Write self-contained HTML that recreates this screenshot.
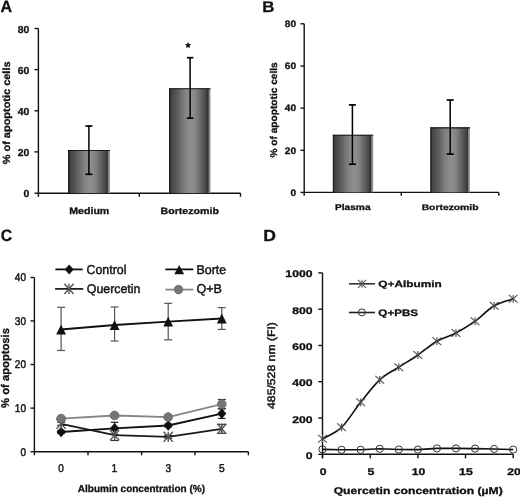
<!DOCTYPE html><html><head><meta charset="utf-8"><style>html,body{margin:0;padding:0;background:#fff;overflow:hidden}svg{display:block;will-change:transform} text{text-rendering:geometricPrecision}</style></head><body>
<svg width="520" height="497" viewBox="0 0 520 497" font-family="Liberation Sans, sans-serif">
<defs><linearGradient id="bg" x1="0" y1="0" x2="1" y2="0"><stop offset="0.0000" stop-color="#1c1c1c"/><stop offset="0.0317" stop-color="#262626"/><stop offset="0.0488" stop-color="#444444"/><stop offset="0.1351" stop-color="#505050"/><stop offset="0.2215" stop-color="#606060"/><stop offset="0.3208" stop-color="#757575"/><stop offset="0.3941" stop-color="#828282"/><stop offset="0.4805" stop-color="#8c8c8c"/><stop offset="0.5496" stop-color="#8e8e8e"/><stop offset="0.6186" stop-color="#888888"/><stop offset="0.6963" stop-color="#787878"/><stop offset="0.7740" stop-color="#646464"/><stop offset="0.8431" stop-color="#525252"/><stop offset="0.9122" stop-color="#404040"/><stop offset="0.9317" stop-color="#2e2e2e"/><stop offset="0.9488" stop-color="#404040"/><stop offset="0.9610" stop-color="#888888"/><stop offset="1.0000" stop-color="#9a9a9a"/></linearGradient></defs>
<text transform="translate(0.45 12.15) scale(0.9801 1)" font-size="16.42" font-weight="bold" fill="#111" stroke="#111" stroke-width="0.30">A</text>
<line x1="38.40" y1="28.50" x2="38.40" y2="196.80" stroke="#111" stroke-width="1.40" stroke-linecap="butt"/>
<line x1="38.40" y1="193.20" x2="240.50" y2="193.20" stroke="#111" stroke-width="1.40" stroke-linecap="butt"/>
<line x1="34.50" y1="28.50" x2="38.40" y2="28.50" stroke="#111" stroke-width="1.40" stroke-linecap="butt"/>
<line x1="34.50" y1="69.60" x2="38.40" y2="69.60" stroke="#111" stroke-width="1.40" stroke-linecap="butt"/>
<line x1="34.50" y1="110.80" x2="38.40" y2="110.80" stroke="#111" stroke-width="1.40" stroke-linecap="butt"/>
<line x1="34.50" y1="151.90" x2="38.40" y2="151.90" stroke="#111" stroke-width="1.40" stroke-linecap="butt"/>
<line x1="34.50" y1="193.20" x2="38.40" y2="193.20" stroke="#111" stroke-width="1.40" stroke-linecap="butt"/>
<line x1="139.30" y1="193.20" x2="139.30" y2="196.80" stroke="#111" stroke-width="1.40" stroke-linecap="butt"/>
<line x1="240.50" y1="193.20" x2="240.50" y2="196.80" stroke="#111" stroke-width="1.40" stroke-linecap="butt"/>
<rect x="68.00" y="150.00" width="42.00" height="43.20" fill="url(#bg)"/>
<line x1="68.00" y1="150.50" x2="110.00" y2="150.50" stroke="#1a1a1a" stroke-width="1.10" stroke-linecap="butt"/>
<line x1="88.90" y1="126.00" x2="88.90" y2="174.30" stroke="#000" stroke-width="1.50" stroke-linecap="butt"/>
<line x1="85.40" y1="126.00" x2="92.40" y2="126.00" stroke="#000" stroke-width="1.70" stroke-linecap="butt"/>
<line x1="85.40" y1="174.30" x2="92.40" y2="174.30" stroke="#000" stroke-width="1.70" stroke-linecap="butt"/>
<rect x="169.00" y="88.30" width="41.50" height="104.90" fill="url(#bg)"/>
<line x1="169.00" y1="88.80" x2="210.50" y2="88.80" stroke="#1a1a1a" stroke-width="1.10" stroke-linecap="butt"/>
<line x1="190.10" y1="57.70" x2="190.10" y2="118.20" stroke="#000" stroke-width="1.50" stroke-linecap="butt"/>
<line x1="186.85" y1="57.70" x2="193.35" y2="57.70" stroke="#000" stroke-width="1.70" stroke-linecap="butt"/>
<line x1="186.85" y1="118.20" x2="193.35" y2="118.20" stroke="#000" stroke-width="1.70" stroke-linecap="butt"/>
<polygon points="188.10,41.90 189.04,44.01 191.33,44.25 189.62,45.79 190.10,48.05 188.10,46.90 186.10,48.05 186.58,45.79 184.87,44.25 187.16,44.01" fill="#111"/>
<text transform="translate(17.76 32.65) scale(1.0300 1)" font-size="10.10" font-weight="bold" fill="#111" stroke="#111" stroke-width="0.30">80</text>
<text transform="translate(17.76 73.75) scale(1.0300 1)" font-size="10.10" font-weight="bold" fill="#111" stroke="#111" stroke-width="0.30">60</text>
<text transform="translate(17.76 114.95) scale(1.0300 1)" font-size="10.10" font-weight="bold" fill="#111" stroke="#111" stroke-width="0.30">40</text>
<text transform="translate(17.76 156.05) scale(1.0300 1)" font-size="10.10" font-weight="bold" fill="#111" stroke="#111" stroke-width="0.30">20</text>
<text transform="translate(23.54 197.35) scale(1.0300 1)" font-size="10.10" font-weight="bold" fill="#111" stroke="#111" stroke-width="0.30">0</text>
<text transform="translate(69.24 213.65) scale(1.1138 1)" font-size="9.52" font-weight="bold" fill="#111" stroke="#111" stroke-width="0.30">Medium</text>
<text transform="translate(160.44 213.55) scale(1.1708 1)" font-size="9.11" font-weight="bold" fill="#111" stroke="#111" stroke-width="0.30">Bortezomib</text>
<text transform="translate(10.25 164.32) rotate(-90) scale(1.0590 1)" font-size="10.35" font-weight="bold" fill="#111" stroke="#111" stroke-width="0.30">% of apoptotic cells</text>
<text transform="translate(262.22 12.45) scale(1.0962 1)" font-size="15.41" font-weight="bold" fill="#111" stroke="#111" stroke-width="0.30">B</text>
<line x1="304.20" y1="23.80" x2="304.20" y2="195.80" stroke="#111" stroke-width="1.40" stroke-linecap="butt"/>
<line x1="304.20" y1="192.40" x2="498.80" y2="192.40" stroke="#111" stroke-width="1.40" stroke-linecap="butt"/>
<line x1="300.50" y1="23.80" x2="304.20" y2="23.80" stroke="#111" stroke-width="1.40" stroke-linecap="butt"/>
<line x1="300.50" y1="66.00" x2="304.20" y2="66.00" stroke="#111" stroke-width="1.40" stroke-linecap="butt"/>
<line x1="300.50" y1="108.10" x2="304.20" y2="108.10" stroke="#111" stroke-width="1.40" stroke-linecap="butt"/>
<line x1="300.50" y1="150.30" x2="304.20" y2="150.30" stroke="#111" stroke-width="1.40" stroke-linecap="butt"/>
<line x1="300.50" y1="192.40" x2="304.20" y2="192.40" stroke="#111" stroke-width="1.40" stroke-linecap="butt"/>
<line x1="401.30" y1="192.40" x2="401.30" y2="195.80" stroke="#111" stroke-width="1.40" stroke-linecap="butt"/>
<line x1="498.80" y1="192.40" x2="498.80" y2="195.80" stroke="#111" stroke-width="1.40" stroke-linecap="butt"/>
<rect x="332.80" y="134.80" width="40.40" height="57.60" fill="url(#bg)"/>
<line x1="332.80" y1="135.30" x2="373.20" y2="135.30" stroke="#1a1a1a" stroke-width="1.10" stroke-linecap="butt"/>
<line x1="352.40" y1="104.90" x2="352.40" y2="164.20" stroke="#000" stroke-width="1.50" stroke-linecap="butt"/>
<line x1="348.90" y1="104.90" x2="355.90" y2="104.90" stroke="#000" stroke-width="1.70" stroke-linecap="butt"/>
<line x1="348.90" y1="164.20" x2="355.90" y2="164.20" stroke="#000" stroke-width="1.70" stroke-linecap="butt"/>
<rect x="430.20" y="127.40" width="39.80" height="65.00" fill="url(#bg)"/>
<line x1="430.20" y1="127.90" x2="470.00" y2="127.90" stroke="#1a1a1a" stroke-width="1.10" stroke-linecap="butt"/>
<line x1="450.20" y1="100.00" x2="450.20" y2="154.10" stroke="#000" stroke-width="1.50" stroke-linecap="butt"/>
<line x1="446.70" y1="100.00" x2="453.70" y2="100.00" stroke="#000" stroke-width="1.70" stroke-linecap="butt"/>
<line x1="446.70" y1="154.10" x2="453.70" y2="154.10" stroke="#000" stroke-width="1.70" stroke-linecap="butt"/>
<text transform="translate(284.83 27.15) scale(1.0850 1)" font-size="9.31" font-weight="bold" fill="#111" stroke="#111" stroke-width="0.30">80</text>
<text transform="translate(284.83 69.35) scale(1.0850 1)" font-size="9.31" font-weight="bold" fill="#111" stroke="#111" stroke-width="0.30">60</text>
<text transform="translate(284.83 111.45) scale(1.0850 1)" font-size="9.31" font-weight="bold" fill="#111" stroke="#111" stroke-width="0.30">40</text>
<text transform="translate(284.83 153.65) scale(1.0850 1)" font-size="9.31" font-weight="bold" fill="#111" stroke="#111" stroke-width="0.30">20</text>
<text transform="translate(290.45 195.75) scale(1.0850 1)" font-size="9.31" font-weight="bold" fill="#111" stroke="#111" stroke-width="0.30">0</text>
<text transform="translate(334.97 210.45) scale(1.2079 1)" font-size="8.42" font-weight="bold" fill="#111" stroke="#111" stroke-width="0.30">Plasma</text>
<text transform="translate(421.66 210.25) scale(1.2710 1)" font-size="8.14" font-weight="bold" fill="#111" stroke="#111" stroke-width="0.30">Bortezomib</text>
<text transform="translate(276.65 157.60) rotate(-90) scale(1.0365 1)" font-size="9.80" font-weight="bold" fill="#111" stroke="#111" stroke-width="0.30">% of apoptotic cells</text>
<text transform="translate(0.70 241.45) scale(0.9483 1)" font-size="16.61" font-weight="bold" fill="#111" stroke="#111" stroke-width="0.30">C</text>
<line x1="34.40" y1="277.50" x2="34.40" y2="455.30" stroke="#111" stroke-width="1.40" stroke-linecap="butt"/>
<line x1="34.40" y1="451.70" x2="248.40" y2="451.70" stroke="#111" stroke-width="1.40" stroke-linecap="butt"/>
<line x1="30.50" y1="277.50" x2="34.40" y2="277.50" stroke="#111" stroke-width="1.40" stroke-linecap="butt"/>
<line x1="30.50" y1="320.90" x2="34.40" y2="320.90" stroke="#111" stroke-width="1.40" stroke-linecap="butt"/>
<line x1="30.50" y1="364.50" x2="34.40" y2="364.50" stroke="#111" stroke-width="1.40" stroke-linecap="butt"/>
<line x1="30.50" y1="408.10" x2="34.40" y2="408.10" stroke="#111" stroke-width="1.40" stroke-linecap="butt"/>
<line x1="30.50" y1="451.70" x2="34.40" y2="451.70" stroke="#111" stroke-width="1.40" stroke-linecap="butt"/>
<line x1="88.00" y1="451.70" x2="88.00" y2="455.30" stroke="#111" stroke-width="1.40" stroke-linecap="butt"/>
<line x1="141.60" y1="451.70" x2="141.60" y2="455.30" stroke="#111" stroke-width="1.40" stroke-linecap="butt"/>
<line x1="195.00" y1="451.70" x2="195.00" y2="455.30" stroke="#111" stroke-width="1.40" stroke-linecap="butt"/>
<line x1="248.40" y1="451.70" x2="248.40" y2="455.30" stroke="#111" stroke-width="1.40" stroke-linecap="butt"/>
<text transform="translate(14.86 281.40) scale(0.9000 1)" font-size="11.17" font-weight="normal" fill="#111" stroke="#111" stroke-width="0.45">40</text>
<text transform="translate(14.86 324.80) scale(0.9000 1)" font-size="11.17" font-weight="normal" fill="#111" stroke="#111" stroke-width="0.45">30</text>
<text transform="translate(14.86 368.40) scale(0.9000 1)" font-size="11.17" font-weight="normal" fill="#111" stroke="#111" stroke-width="0.45">20</text>
<text transform="translate(14.86 412.00) scale(0.9000 1)" font-size="11.17" font-weight="normal" fill="#111" stroke="#111" stroke-width="0.45">10</text>
<text transform="translate(20.45 455.60) scale(0.9000 1)" font-size="11.17" font-weight="normal" fill="#111" stroke="#111" stroke-width="0.45">0</text>
<text transform="translate(58.30 472.15) scale(0.9000 1)" font-size="11.17" font-weight="normal" fill="#111" stroke="#111" stroke-width="0.45">0</text>
<text transform="translate(111.62 472.15) scale(0.9000 1)" font-size="11.34" font-weight="normal" fill="#111" stroke="#111" stroke-width="0.45">1</text>
<text transform="translate(165.43 472.15) scale(0.9000 1)" font-size="11.17" font-weight="normal" fill="#111" stroke="#111" stroke-width="0.45">3</text>
<text transform="translate(218.97 472.15) scale(0.9000 1)" font-size="11.34" font-weight="normal" fill="#111" stroke="#111" stroke-width="0.45">5</text>
<text transform="translate(8.65 407.93) rotate(-90) scale(1.0056 1)" font-size="11.18" font-weight="bold" fill="#111" stroke="#111" stroke-width="0.30">% of apoptosis</text>
<text transform="translate(77.85 491.55) scale(0.9932 1)" font-size="10.07" font-weight="bold" fill="#111" stroke="#111" stroke-width="0.30">Albumin concentration (%)</text>
<line x1="55.40" y1="269.40" x2="82.70" y2="269.40" stroke="#111" stroke-width="1.80" stroke-linecap="butt"/>
<polygon points="69.20,264.60 73.70,269.50 69.20,274.40 64.70,269.50" fill="#111"/>
<text transform="translate(86.52 273.95) scale(0.9555 1)" font-size="12.97" font-weight="normal" fill="#111" stroke="#111" stroke-width="0.45">Control</text>
<line x1="55.10" y1="288.90" x2="83.20" y2="288.90" stroke="#222" stroke-width="1.80" stroke-linecap="butt"/>
<line x1="64.40" y1="283.80" x2="73.60" y2="294.00" stroke="#555" stroke-width="1.40" stroke-linecap="butt"/>
<line x1="64.40" y1="294.00" x2="73.60" y2="283.80" stroke="#555" stroke-width="1.40" stroke-linecap="butt"/>
<line x1="69.00" y1="283.80" x2="69.00" y2="294.00" stroke="#555" stroke-width="1.40" stroke-linecap="butt"/>
<text transform="translate(86.76 293.45) scale(0.9861 1)" font-size="12.56" font-weight="normal" fill="#111" stroke="#111" stroke-width="0.45">Quercetin</text>
<line x1="165.40" y1="269.40" x2="193.30" y2="269.40" stroke="#111" stroke-width="1.80" stroke-linecap="butt"/>
<polygon points="179.20,264.90 184.10,274.30 174.30,274.30" fill="#111"/>
<text transform="translate(196.43 273.75) scale(0.9739 1)" font-size="12.79" font-weight="normal" fill="#111" stroke="#111" stroke-width="0.45">Borte</text>
<line x1="165.40" y1="289.60" x2="193.30" y2="289.60" stroke="#858585" stroke-width="1.80" stroke-linecap="butt"/>
<circle cx="178.50" cy="289.60" r="4.30" fill="#767676" stroke="#6a6a6a" stroke-width="0.80"/>
<text transform="translate(196.46 293.45) scale(0.9803 1)" font-size="12.75" font-weight="normal" fill="#111" stroke="#111" stroke-width="0.45">Q+B</text>
<line x1="61.10" y1="307.30" x2="61.10" y2="350.50" stroke="#555" stroke-width="1.20" stroke-linecap="butt"/>
<line x1="57.10" y1="307.30" x2="65.10" y2="307.30" stroke="#555" stroke-width="1.20" stroke-linecap="butt"/>
<line x1="57.10" y1="350.50" x2="65.10" y2="350.50" stroke="#555" stroke-width="1.20" stroke-linecap="butt"/>
<line x1="114.60" y1="307.00" x2="114.60" y2="341.00" stroke="#555" stroke-width="1.20" stroke-linecap="butt"/>
<line x1="110.60" y1="307.00" x2="118.60" y2="307.00" stroke="#555" stroke-width="1.20" stroke-linecap="butt"/>
<line x1="110.60" y1="341.00" x2="118.60" y2="341.00" stroke="#555" stroke-width="1.20" stroke-linecap="butt"/>
<line x1="168.20" y1="303.30" x2="168.20" y2="339.80" stroke="#555" stroke-width="1.20" stroke-linecap="butt"/>
<line x1="164.20" y1="303.30" x2="172.20" y2="303.30" stroke="#555" stroke-width="1.20" stroke-linecap="butt"/>
<line x1="164.20" y1="339.80" x2="172.20" y2="339.80" stroke="#555" stroke-width="1.20" stroke-linecap="butt"/>
<line x1="221.80" y1="307.60" x2="221.80" y2="329.40" stroke="#555" stroke-width="1.20" stroke-linecap="butt"/>
<line x1="217.80" y1="307.60" x2="225.80" y2="307.60" stroke="#555" stroke-width="1.20" stroke-linecap="butt"/>
<line x1="217.80" y1="329.40" x2="225.80" y2="329.40" stroke="#555" stroke-width="1.20" stroke-linecap="butt"/>
<line x1="61.10" y1="430.50" x2="61.10" y2="433.50" stroke="#222" stroke-width="1.20" stroke-linecap="butt"/>
<line x1="57.35" y1="430.50" x2="64.85" y2="430.50" stroke="#222" stroke-width="1.20" stroke-linecap="butt"/>
<line x1="57.35" y1="433.50" x2="64.85" y2="433.50" stroke="#222" stroke-width="1.20" stroke-linecap="butt"/>
<line x1="114.60" y1="422.30" x2="114.60" y2="434.30" stroke="#222" stroke-width="1.20" stroke-linecap="butt"/>
<line x1="110.85" y1="422.30" x2="118.35" y2="422.30" stroke="#222" stroke-width="1.20" stroke-linecap="butt"/>
<line x1="110.85" y1="434.30" x2="118.35" y2="434.30" stroke="#222" stroke-width="1.20" stroke-linecap="butt"/>
<line x1="168.20" y1="424.00" x2="168.20" y2="427.00" stroke="#222" stroke-width="1.20" stroke-linecap="butt"/>
<line x1="164.45" y1="424.00" x2="171.95" y2="424.00" stroke="#222" stroke-width="1.20" stroke-linecap="butt"/>
<line x1="164.45" y1="427.00" x2="171.95" y2="427.00" stroke="#222" stroke-width="1.20" stroke-linecap="butt"/>
<line x1="221.80" y1="408.80" x2="221.80" y2="418.40" stroke="#222" stroke-width="1.20" stroke-linecap="butt"/>
<line x1="218.05" y1="408.80" x2="225.55" y2="408.80" stroke="#222" stroke-width="1.20" stroke-linecap="butt"/>
<line x1="218.05" y1="418.40" x2="225.55" y2="418.40" stroke="#222" stroke-width="1.20" stroke-linecap="butt"/>
<line x1="61.10" y1="422.30" x2="61.10" y2="425.30" stroke="#333" stroke-width="1.20" stroke-linecap="butt"/>
<line x1="57.10" y1="422.30" x2="65.10" y2="422.30" stroke="#333" stroke-width="1.20" stroke-linecap="butt"/>
<line x1="57.10" y1="425.30" x2="65.10" y2="425.30" stroke="#333" stroke-width="1.20" stroke-linecap="butt"/>
<line x1="114.60" y1="429.90" x2="114.60" y2="440.50" stroke="#333" stroke-width="1.20" stroke-linecap="butt"/>
<line x1="110.60" y1="429.90" x2="118.60" y2="429.90" stroke="#333" stroke-width="1.20" stroke-linecap="butt"/>
<line x1="110.60" y1="440.50" x2="118.60" y2="440.50" stroke="#333" stroke-width="1.20" stroke-linecap="butt"/>
<line x1="168.20" y1="435.30" x2="168.20" y2="438.30" stroke="#333" stroke-width="1.20" stroke-linecap="butt"/>
<line x1="164.20" y1="435.30" x2="172.20" y2="435.30" stroke="#333" stroke-width="1.20" stroke-linecap="butt"/>
<line x1="164.20" y1="438.30" x2="172.20" y2="438.30" stroke="#333" stroke-width="1.20" stroke-linecap="butt"/>
<line x1="221.80" y1="424.30" x2="221.80" y2="433.30" stroke="#333" stroke-width="1.20" stroke-linecap="butt"/>
<line x1="217.80" y1="424.30" x2="225.80" y2="424.30" stroke="#333" stroke-width="1.20" stroke-linecap="butt"/>
<line x1="217.80" y1="433.30" x2="225.80" y2="433.30" stroke="#333" stroke-width="1.20" stroke-linecap="butt"/>
<line x1="61.10" y1="417.20" x2="61.10" y2="420.20" stroke="#333" stroke-width="1.20" stroke-linecap="butt"/>
<line x1="57.10" y1="417.20" x2="65.10" y2="417.20" stroke="#333" stroke-width="1.20" stroke-linecap="butt"/>
<line x1="57.10" y1="420.20" x2="65.10" y2="420.20" stroke="#333" stroke-width="1.20" stroke-linecap="butt"/>
<line x1="114.60" y1="414.00" x2="114.60" y2="417.00" stroke="#333" stroke-width="1.20" stroke-linecap="butt"/>
<line x1="110.60" y1="414.00" x2="118.60" y2="414.00" stroke="#333" stroke-width="1.20" stroke-linecap="butt"/>
<line x1="110.60" y1="417.00" x2="118.60" y2="417.00" stroke="#333" stroke-width="1.20" stroke-linecap="butt"/>
<line x1="168.20" y1="415.60" x2="168.20" y2="418.60" stroke="#333" stroke-width="1.20" stroke-linecap="butt"/>
<line x1="164.20" y1="415.60" x2="172.20" y2="415.60" stroke="#333" stroke-width="1.20" stroke-linecap="butt"/>
<line x1="164.20" y1="418.60" x2="172.20" y2="418.60" stroke="#333" stroke-width="1.20" stroke-linecap="butt"/>
<line x1="221.80" y1="399.50" x2="221.80" y2="408.70" stroke="#333" stroke-width="1.20" stroke-linecap="butt"/>
<line x1="217.80" y1="399.50" x2="225.80" y2="399.50" stroke="#333" stroke-width="1.20" stroke-linecap="butt"/>
<line x1="217.80" y1="408.70" x2="225.80" y2="408.70" stroke="#333" stroke-width="1.20" stroke-linecap="butt"/>
<polyline points="61.10,432.00 114.60,428.30 168.20,425.50 221.80,413.60" fill="none" stroke="#111" stroke-width="1.80" stroke-linejoin="round"/>
<polygon points="61.10,426.80 65.70,432.00 61.10,437.20 56.50,432.00" fill="#111"/>
<polygon points="114.60,423.10 119.20,428.30 114.60,433.50 110.00,428.30" fill="#111"/>
<polygon points="168.20,420.30 172.80,425.50 168.20,430.70 163.60,425.50" fill="#111"/>
<polygon points="221.80,408.40 226.40,413.60 221.80,418.80 217.20,413.60" fill="#111"/>
<polyline points="61.10,329.50 114.60,325.00 168.20,321.70 221.80,318.50" fill="none" stroke="#111" stroke-width="1.80" stroke-linejoin="round"/>
<polygon points="61.10,324.60 66.00,334.40 56.20,334.40" fill="#111"/>
<polygon points="114.60,320.10 119.50,329.90 109.70,329.90" fill="#111"/>
<polygon points="168.20,316.80 173.10,326.60 163.30,326.60" fill="#111"/>
<polygon points="221.80,313.60 226.70,323.40 216.90,323.40" fill="#111"/>
<polyline points="61.10,423.80 114.60,435.20 168.20,436.80 221.80,428.80" fill="none" stroke="#1a1a1a" stroke-width="1.80" stroke-linejoin="round"/>
<line x1="56.50" y1="418.70" x2="65.70" y2="428.90" stroke="#555" stroke-width="1.40" stroke-linecap="butt"/>
<line x1="56.50" y1="428.90" x2="65.70" y2="418.70" stroke="#555" stroke-width="1.40" stroke-linecap="butt"/>
<line x1="61.10" y1="418.70" x2="61.10" y2="428.90" stroke="#555" stroke-width="1.40" stroke-linecap="butt"/>
<line x1="110.00" y1="430.10" x2="119.20" y2="440.30" stroke="#555" stroke-width="1.40" stroke-linecap="butt"/>
<line x1="110.00" y1="440.30" x2="119.20" y2="430.10" stroke="#555" stroke-width="1.40" stroke-linecap="butt"/>
<line x1="114.60" y1="430.10" x2="114.60" y2="440.30" stroke="#555" stroke-width="1.40" stroke-linecap="butt"/>
<line x1="163.60" y1="431.70" x2="172.80" y2="441.90" stroke="#555" stroke-width="1.40" stroke-linecap="butt"/>
<line x1="163.60" y1="441.90" x2="172.80" y2="431.70" stroke="#555" stroke-width="1.40" stroke-linecap="butt"/>
<line x1="168.20" y1="431.70" x2="168.20" y2="441.90" stroke="#555" stroke-width="1.40" stroke-linecap="butt"/>
<line x1="217.20" y1="423.70" x2="226.40" y2="433.90" stroke="#555" stroke-width="1.40" stroke-linecap="butt"/>
<line x1="217.20" y1="433.90" x2="226.40" y2="423.70" stroke="#555" stroke-width="1.40" stroke-linecap="butt"/>
<line x1="221.80" y1="423.70" x2="221.80" y2="433.90" stroke="#555" stroke-width="1.40" stroke-linecap="butt"/>
<polyline points="61.10,418.70 114.60,415.50 168.20,417.10 221.80,404.10" fill="none" stroke="#858585" stroke-width="1.80" stroke-linejoin="round"/>
<circle cx="61.10" cy="418.70" r="4.40" fill="#767676" stroke="#6a6a6a" stroke-width="0.80"/>
<circle cx="114.60" cy="415.50" r="4.40" fill="#767676" stroke="#6a6a6a" stroke-width="0.80"/>
<circle cx="168.20" cy="417.10" r="4.40" fill="#767676" stroke="#6a6a6a" stroke-width="0.80"/>
<circle cx="221.80" cy="404.10" r="4.40" fill="#767676" stroke="#6a6a6a" stroke-width="0.80"/>
<text transform="translate(263.17 240.65) scale(1.0915 1)" font-size="16.13" font-weight="bold" fill="#111" stroke="#111" stroke-width="0.30">D</text>
<line x1="322.50" y1="272.90" x2="322.50" y2="458.30" stroke="#111" stroke-width="1.40" stroke-linecap="butt"/>
<line x1="322.50" y1="454.30" x2="513.20" y2="454.30" stroke="#111" stroke-width="1.40" stroke-linecap="butt"/>
<line x1="318.30" y1="272.90" x2="322.50" y2="272.90" stroke="#111" stroke-width="1.40" stroke-linecap="butt"/>
<line x1="318.30" y1="309.20" x2="322.50" y2="309.20" stroke="#111" stroke-width="1.40" stroke-linecap="butt"/>
<line x1="318.30" y1="345.50" x2="322.50" y2="345.50" stroke="#111" stroke-width="1.40" stroke-linecap="butt"/>
<line x1="318.30" y1="381.70" x2="322.50" y2="381.70" stroke="#111" stroke-width="1.40" stroke-linecap="butt"/>
<line x1="318.30" y1="418.00" x2="322.50" y2="418.00" stroke="#111" stroke-width="1.40" stroke-linecap="butt"/>
<line x1="318.30" y1="454.30" x2="322.50" y2="454.30" stroke="#111" stroke-width="1.40" stroke-linecap="butt"/>
<line x1="322.50" y1="454.30" x2="322.50" y2="458.30" stroke="#111" stroke-width="1.40" stroke-linecap="butt"/>
<line x1="370.20" y1="454.30" x2="370.20" y2="458.30" stroke="#111" stroke-width="1.40" stroke-linecap="butt"/>
<line x1="417.90" y1="454.30" x2="417.90" y2="458.30" stroke="#111" stroke-width="1.40" stroke-linecap="butt"/>
<line x1="465.50" y1="454.30" x2="465.50" y2="458.30" stroke="#111" stroke-width="1.40" stroke-linecap="butt"/>
<line x1="513.20" y1="454.30" x2="513.20" y2="458.30" stroke="#111" stroke-width="1.40" stroke-linecap="butt"/>
<text transform="translate(285.37 277.45) scale(1.2500 1)" font-size="9.74" font-weight="bold" fill="#111" stroke="#111" stroke-width="0.30">1000</text>
<text transform="translate(292.14 313.75) scale(1.2500 1)" font-size="9.74" font-weight="bold" fill="#111" stroke="#111" stroke-width="0.30">800</text>
<text transform="translate(292.14 350.05) scale(1.2500 1)" font-size="9.74" font-weight="bold" fill="#111" stroke="#111" stroke-width="0.30">600</text>
<text transform="translate(292.14 386.25) scale(1.2500 1)" font-size="9.74" font-weight="bold" fill="#111" stroke="#111" stroke-width="0.30">400</text>
<text transform="translate(292.14 422.55) scale(1.2500 1)" font-size="9.74" font-weight="bold" fill="#111" stroke="#111" stroke-width="0.30">200</text>
<text transform="translate(305.68 458.85) scale(1.2500 1)" font-size="9.74" font-weight="bold" fill="#111" stroke="#111" stroke-width="0.30">0</text>
<text transform="translate(319.82 474.65) scale(1.2500 1)" font-size="9.74" font-weight="bold" fill="#111" stroke="#111" stroke-width="0.30">0</text>
<text transform="translate(367.45 474.65) scale(1.2500 1)" font-size="9.88" font-weight="bold" fill="#111" stroke="#111" stroke-width="0.30">5</text>
<text transform="translate(411.70 474.65) scale(1.2500 1)" font-size="9.74" font-weight="bold" fill="#111" stroke="#111" stroke-width="0.30">10</text>
<text transform="translate(459.11 474.65) scale(1.2500 1)" font-size="9.88" font-weight="bold" fill="#111" stroke="#111" stroke-width="0.30">15</text>
<text transform="translate(507.17 474.65) scale(1.2500 1)" font-size="9.74" font-weight="bold" fill="#111" stroke="#111" stroke-width="0.30">20</text>
<text transform="translate(274.55 408.93) rotate(-90) scale(1.1209 1)" font-size="10.90" font-weight="normal" fill="#111" stroke="#111" stroke-width="0.45">485/528 nm (FI)</text>
<text transform="translate(333.65 494.05) scale(1.2407 1)" font-size="9.80" font-weight="bold" fill="#111" stroke="#111" stroke-width="0.30">Quercetin concentration (µM)</text>
<line x1="349.00" y1="283.80" x2="375.00" y2="283.80" stroke="#333" stroke-width="1.60" stroke-linecap="butt"/>
<line x1="358.00" y1="279.80" x2="366.00" y2="287.80" stroke="#555" stroke-width="1.10" stroke-linecap="butt"/>
<line x1="358.00" y1="287.80" x2="366.00" y2="279.80" stroke="#555" stroke-width="1.10" stroke-linecap="butt"/>
<line x1="362.00" y1="279.80" x2="362.00" y2="287.80" stroke="#555" stroke-width="1.10" stroke-linecap="butt"/>
<text transform="translate(378.36 287.25) scale(1.2987 1)" font-size="9.11" font-weight="bold" fill="#111" stroke="#111" stroke-width="0.30">Q+Albumin</text>
<line x1="349.00" y1="312.50" x2="375.00" y2="312.50" stroke="#222" stroke-width="1.60" stroke-linecap="butt"/>
<circle cx="361.80" cy="312.40" r="3.50" fill="none" stroke="#333" stroke-width="1.00"/>
<text transform="translate(378.37 315.95) scale(1.2298 1)" font-size="9.45" font-weight="bold" fill="#111" stroke="#111" stroke-width="0.30">Q+PBS</text>
<path d="M322.50,438.80 C325.68,436.88 335.21,433.38 341.57,427.30 C347.93,421.22 354.28,410.22 360.64,402.30 C367.00,394.38 373.35,385.65 379.71,379.80 C386.07,373.95 392.42,371.33 398.78,367.20 C405.14,363.07 411.49,359.33 417.85,355.00 C424.21,350.67 430.56,344.87 436.92,341.20 C443.28,337.53 449.63,336.33 455.99,333.00 C462.35,329.67 468.70,325.73 475.06,321.20 C481.42,316.67 487.77,309.53 494.13,305.80 C500.49,302.07 510.02,299.97 513.20,298.80" fill="none" stroke="#111" stroke-width="1.65"/>
<line x1="318.10" y1="434.90" x2="326.90" y2="442.70" stroke="#4a4a4a" stroke-width="1.10" stroke-linecap="butt"/>
<line x1="318.10" y1="442.70" x2="326.90" y2="434.90" stroke="#4a4a4a" stroke-width="1.10" stroke-linecap="butt"/>
<line x1="322.50" y1="434.90" x2="322.50" y2="442.70" stroke="#4a4a4a" stroke-width="1.10" stroke-linecap="butt"/>
<line x1="337.17" y1="423.40" x2="345.97" y2="431.20" stroke="#4a4a4a" stroke-width="1.10" stroke-linecap="butt"/>
<line x1="337.17" y1="431.20" x2="345.97" y2="423.40" stroke="#4a4a4a" stroke-width="1.10" stroke-linecap="butt"/>
<line x1="341.57" y1="423.40" x2="341.57" y2="431.20" stroke="#4a4a4a" stroke-width="1.10" stroke-linecap="butt"/>
<line x1="356.24" y1="398.40" x2="365.04" y2="406.20" stroke="#4a4a4a" stroke-width="1.10" stroke-linecap="butt"/>
<line x1="356.24" y1="406.20" x2="365.04" y2="398.40" stroke="#4a4a4a" stroke-width="1.10" stroke-linecap="butt"/>
<line x1="360.64" y1="398.40" x2="360.64" y2="406.20" stroke="#4a4a4a" stroke-width="1.10" stroke-linecap="butt"/>
<line x1="375.31" y1="375.90" x2="384.11" y2="383.70" stroke="#4a4a4a" stroke-width="1.10" stroke-linecap="butt"/>
<line x1="375.31" y1="383.70" x2="384.11" y2="375.90" stroke="#4a4a4a" stroke-width="1.10" stroke-linecap="butt"/>
<line x1="379.71" y1="375.90" x2="379.71" y2="383.70" stroke="#4a4a4a" stroke-width="1.10" stroke-linecap="butt"/>
<line x1="394.38" y1="363.30" x2="403.18" y2="371.10" stroke="#4a4a4a" stroke-width="1.10" stroke-linecap="butt"/>
<line x1="394.38" y1="371.10" x2="403.18" y2="363.30" stroke="#4a4a4a" stroke-width="1.10" stroke-linecap="butt"/>
<line x1="398.78" y1="363.30" x2="398.78" y2="371.10" stroke="#4a4a4a" stroke-width="1.10" stroke-linecap="butt"/>
<line x1="413.45" y1="351.10" x2="422.25" y2="358.90" stroke="#4a4a4a" stroke-width="1.10" stroke-linecap="butt"/>
<line x1="413.45" y1="358.90" x2="422.25" y2="351.10" stroke="#4a4a4a" stroke-width="1.10" stroke-linecap="butt"/>
<line x1="417.85" y1="351.10" x2="417.85" y2="358.90" stroke="#4a4a4a" stroke-width="1.10" stroke-linecap="butt"/>
<line x1="432.52" y1="337.30" x2="441.32" y2="345.10" stroke="#4a4a4a" stroke-width="1.10" stroke-linecap="butt"/>
<line x1="432.52" y1="345.10" x2="441.32" y2="337.30" stroke="#4a4a4a" stroke-width="1.10" stroke-linecap="butt"/>
<line x1="436.92" y1="337.30" x2="436.92" y2="345.10" stroke="#4a4a4a" stroke-width="1.10" stroke-linecap="butt"/>
<line x1="451.59" y1="329.10" x2="460.39" y2="336.90" stroke="#4a4a4a" stroke-width="1.10" stroke-linecap="butt"/>
<line x1="451.59" y1="336.90" x2="460.39" y2="329.10" stroke="#4a4a4a" stroke-width="1.10" stroke-linecap="butt"/>
<line x1="455.99" y1="329.10" x2="455.99" y2="336.90" stroke="#4a4a4a" stroke-width="1.10" stroke-linecap="butt"/>
<line x1="470.66" y1="317.30" x2="479.46" y2="325.10" stroke="#4a4a4a" stroke-width="1.10" stroke-linecap="butt"/>
<line x1="470.66" y1="325.10" x2="479.46" y2="317.30" stroke="#4a4a4a" stroke-width="1.10" stroke-linecap="butt"/>
<line x1="475.06" y1="317.30" x2="475.06" y2="325.10" stroke="#4a4a4a" stroke-width="1.10" stroke-linecap="butt"/>
<line x1="489.73" y1="301.90" x2="498.53" y2="309.70" stroke="#4a4a4a" stroke-width="1.10" stroke-linecap="butt"/>
<line x1="489.73" y1="309.70" x2="498.53" y2="301.90" stroke="#4a4a4a" stroke-width="1.10" stroke-linecap="butt"/>
<line x1="494.13" y1="301.90" x2="494.13" y2="309.70" stroke="#4a4a4a" stroke-width="1.10" stroke-linecap="butt"/>
<line x1="508.80" y1="294.90" x2="517.60" y2="302.70" stroke="#4a4a4a" stroke-width="1.10" stroke-linecap="butt"/>
<line x1="508.80" y1="302.70" x2="517.60" y2="294.90" stroke="#4a4a4a" stroke-width="1.10" stroke-linecap="butt"/>
<line x1="513.20" y1="294.90" x2="513.20" y2="302.70" stroke="#4a4a4a" stroke-width="1.10" stroke-linecap="butt"/>
<polyline points="322.50,449.40 341.57,449.80 360.64,449.80 379.71,448.80 398.78,449.50 417.85,449.60 436.92,448.40 455.99,448.40 475.06,448.60 494.13,449.00 513.20,449.60" fill="none" stroke="#111" stroke-width="1.60" stroke-linejoin="round"/>
<circle cx="322.50" cy="449.40" r="3.60" fill="none" stroke="#333" stroke-width="1.00"/>
<circle cx="341.57" cy="449.80" r="3.60" fill="none" stroke="#333" stroke-width="1.00"/>
<circle cx="360.64" cy="449.80" r="3.60" fill="none" stroke="#333" stroke-width="1.00"/>
<circle cx="379.71" cy="448.80" r="3.60" fill="none" stroke="#333" stroke-width="1.00"/>
<circle cx="398.78" cy="449.50" r="3.60" fill="none" stroke="#333" stroke-width="1.00"/>
<circle cx="417.85" cy="449.60" r="3.60" fill="none" stroke="#333" stroke-width="1.00"/>
<circle cx="436.92" cy="448.40" r="3.60" fill="none" stroke="#333" stroke-width="1.00"/>
<circle cx="455.99" cy="448.40" r="3.60" fill="none" stroke="#333" stroke-width="1.00"/>
<circle cx="475.06" cy="448.60" r="3.60" fill="none" stroke="#333" stroke-width="1.00"/>
<circle cx="494.13" cy="449.00" r="3.60" fill="none" stroke="#333" stroke-width="1.00"/>
<circle cx="513.20" cy="449.60" r="3.60" fill="none" stroke="#333" stroke-width="1.00"/>
</svg></body></html>
